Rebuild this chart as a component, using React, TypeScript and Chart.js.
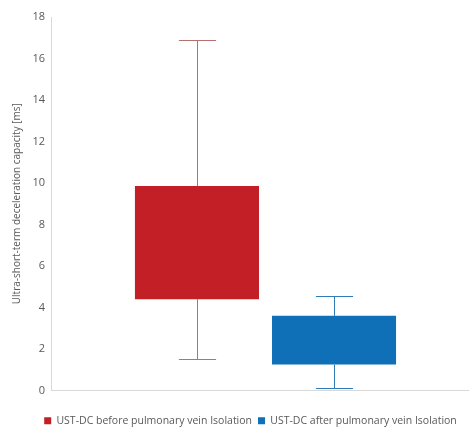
import React, { useEffect, useRef } from "react";
import { Chart, registerables } from "chart.js";

Chart.register(...registerables);

const categories = [""];
const seriesNames = [
  "UST-DC before pulmonary vein Isolation",
  "UST-DC after pulmonary vein Isolation",
];
const q1Values = [4.4, 1.25];
const q3Values = [9.85, 3.6];
const minValues = [1.5, 0.1];
const maxValues = [16.9, 4.55];
const boxColors = ["#C21F26", "#0F70B8"];
const whiskerColors = ["#B5706F", "#2F7DB8"];
const yTicks = [0, 2, 4, 6, 8, 10, 12, 14, 16, 18];

const adjustLayoutPlugin = {
  id: "adjustLayout",
  afterLayout(chart: any) {
    const x = chart.scales.x;
    x.right += 11;
    x.width += 11;
    x.configure();
    if (chart.legend) {
      chart.legend.left += 32;
    }
  },
};

const whiskerPlugin = {
  id: "whiskers",
  afterDatasetsDraw(chart: any) {
    const ctx = chart.ctx;
    const y = chart.scales.y;
    chart.data.datasets.forEach((ds: any, i: number) => {
      const meta = chart.getDatasetMeta(i);
      const bar = meta.data[0];
      if (!bar) return;
      const x = Math.round(bar.x) + 0.5;
      const pMin = Math.round(y.getPixelForValue(minValues[i])) + 0.5;
      const pMax = Math.round(y.getPixelForValue(maxValues[i])) + 0.5;
      const pQ1 = y.getPixelForValue(q1Values[i]);
      const pQ3 = y.getPixelForValue(q3Values[i]);
      const capHalf = bar.width * 0.15;
      ctx.save();
      ctx.strokeStyle = whiskerColors[i];
      ctx.lineWidth = 1;
      ctx.beginPath();
      ctx.moveTo(x, pMax);
      ctx.lineTo(x, pQ3);
      ctx.moveTo(x, pQ1);
      ctx.lineTo(x, pMin);
      ctx.moveTo(x - capHalf, pMax);
      ctx.lineTo(x + capHalf, pMax);
      ctx.moveTo(x - capHalf, pMin);
      ctx.lineTo(x + capHalf, pMin);
      ctx.stroke();
      ctx.restore();
    });
  },
};

export default function App() {
  const ref = useRef<HTMLCanvasElement>(null);
  useEffect(() => {
    document.body.style.margin = "0";
    const chart = new Chart(ref.current!, {
      type: "bar",
      data: {
        labels: categories,
        datasets: seriesNames.map((name, i) => ({
          label: name,
          data: [[q1Values[i], q3Values[i]]] as any,
          backgroundColor: boxColors[i],
          borderWidth: 0,
          categoryPercentage: 0.639,
          barPercentage: 0.905,
        })),
      },
      options: {
        animation: false,
        responsive: false,
        maintainAspectRatio: false,
        layout: { padding: { top: 17, right: 0, bottom: 0, left: 0 } },
        plugins: {
          legend: {
            position: "bottom",
            labels: {
              boxWidth: 7,
              boxHeight: 7,
              color: "#595959",
              font: { family: "Open Sans", size: 10.5 },
              padding: 6,
            },
          },
          tooltip: { enabled: false },
        },
        scales: {
          x: {
            grid: { display: false },
            border: { color: "#D9D9D9" },
            ticks: { display: false },
            afterFit: (axis: any) => {
              axis.height = 19;
            },
          },
          y: {
            min: 0,
            max: 18,
            afterBuildTicks: (axis: any) => {
              axis.ticks = yTicks.map((v) => ({ value: v }));
            },
            afterFit: (axis: any) => {
              axis.width = 51;
            },
            grid: { display: false, drawTicks: false },
            border: { color: "#D9D9D9" },
            ticks: {
              color: "#595959",
              font: { family: "Open Sans", size: 11 },
              padding: 6,
            },
            title: {
              display: true,
              text: "Ultra-short-term deceleration capacity [ms]",
              color: "#595959",
              font: { family: "Open Sans", size: 10 },
              padding: { top: 11, bottom: 0 },
            },
          },
        },
      },
      plugins: [adjustLayoutPlugin, whiskerPlugin],
    });
    return () => chart.destroy();
  }, []);
  return (
    <div style={{ width: 469, height: 436 }}>
      <canvas ref={ref} width={469} height={436} style={{ display: "block" }} />
    </div>
  );
}
